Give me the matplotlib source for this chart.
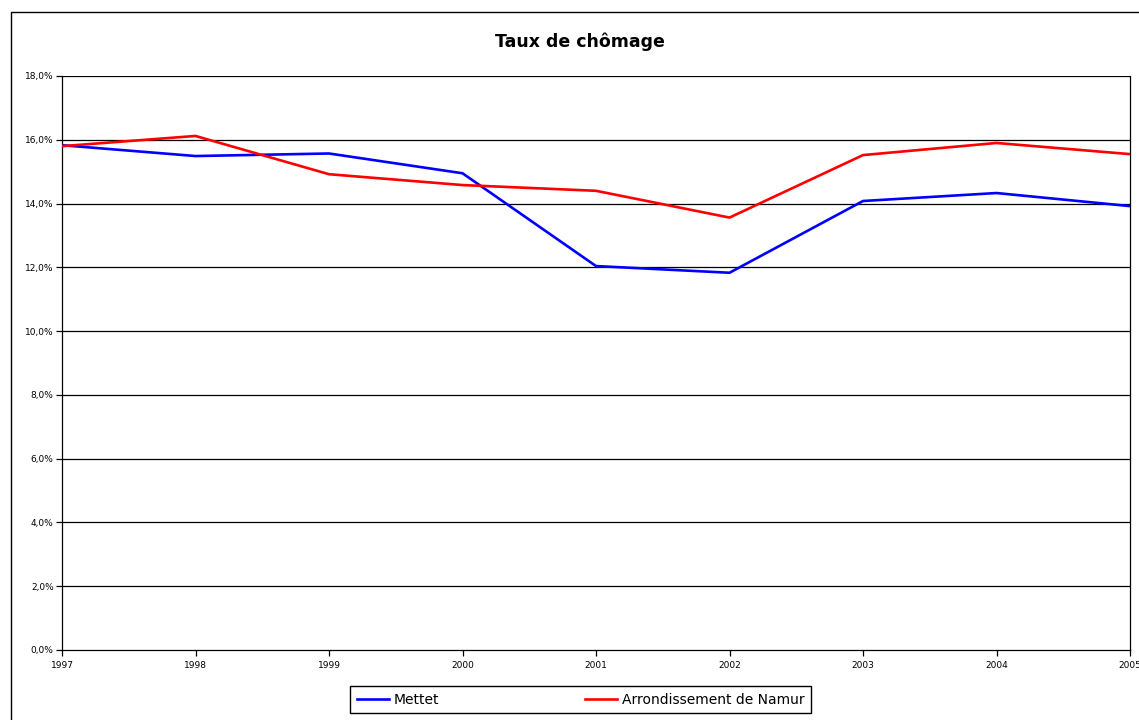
import matplotlib
matplotlib.use("Agg")
import matplotlib.pyplot as plt
from matplotlib.patches import Rectangle
from matplotlib.ticker import FuncFormatter

years = [1997, 1998, 1999, 2000, 2001, 2002, 2003, 2004, 2005]
mettet = [15.83, 15.49, 15.57, 14.95, 12.04, 11.83, 14.08, 14.33, 13.92]
namur = [15.80, 16.12, 14.92, 14.58, 14.40, 13.56, 15.52, 15.90, 15.55]
y_ticks = [0, 2, 4, 6, 8, 10, 12, 14, 16, 18]

fig = plt.figure(figsize=(11.39, 7.2), dpi=100)
ax = fig.add_axes([62 / 1139, 1 - 650 / 720, (1130 - 62) / 1139, (650 - 76) / 720])

for v in y_ticks[1:]:
    ax.axhline(v, color="black", lw=0.9, zorder=1)

ax.plot(years, mettet, color="#0000FF", lw=1.9, label="Mettet", zorder=3)
ax.plot(years, namur, color="#FF0000", lw=1.9, label="Arrondissement de Namur", zorder=3)

ax.set_xlim(years[0], years[-1])
ax.set_ylim(0, 18)
ax.set_xticks(years)
ax.set_yticks(y_ticks)
ax.yaxis.set_major_formatter(FuncFormatter(lambda v, p: f"{v:.1f}%".replace(".", ",")))
ax.tick_params(axis="both", labelsize=6.5, length=4, width=0.9, colors="black")
ax.tick_params(axis="x", pad=4)
ax.tick_params(axis="y", pad=2)
for s in ["left", "bottom", "right", "top"]:
    ax.spines[s].set_linewidth(0.9)
ax.spines["top"].set_visible(False)

fig.text(580 / 1139, 1 - 42 / 720, "Taux de chômage", fontsize=12.5,
         fontweight="bold", ha="center", va="center")

leg = fig.legend(loc="center", bbox_to_anchor=(580.5 / 1139, 1 - 699.5 / 720), ncol=2,
                 fontsize=10, frameon=True, fancybox=False, edgecolor="black",
                 handlelength=2.3, handletextpad=0.35, columnspacing=10.5,
                 borderpad=0.45, framealpha=1)
leg.get_frame().set_linewidth(1.0)

fig.patches.append(Rectangle((11 / 1139, -0.05), 1.2, 1 - 12 / 720 + 0.05,
                             transform=fig.transFigure, fill=False,
                             edgecolor="black", lw=1.0))

fig.savefig("out.png", dpi=100)
